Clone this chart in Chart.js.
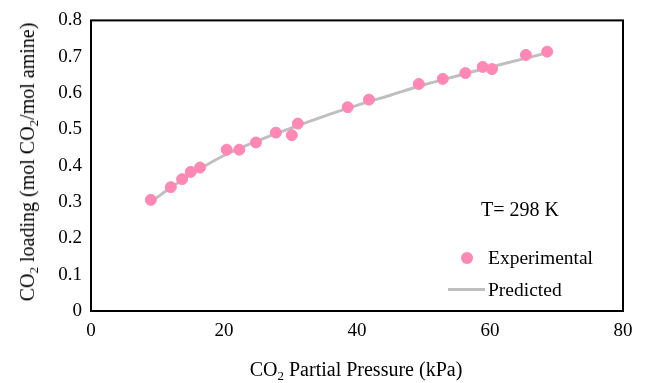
<!DOCTYPE html>
<html>
<head>
<meta charset="utf-8">
<script src="https://cdn.jsdelivr.net/npm/chart.js@4/dist/chart.umd.min.js"></script>
<style>
  html, body { margin:0; padding:0; background:#fff; }
  #wrap { position:relative; width:648px; height:383px; font-family:"Liberation Serif", "Times New Roman", serif; color:#000; }
  #c { position:absolute; left:0; top:0; }
  .lbl { position:absolute; white-space:nowrap; line-height:1; }
  .lbl sub { font-size:0.65em; vertical-align:-0.3em; line-height:0; }
  #ytitle { left:27px; top:162px; font-size:20px; transform:translate(-50%,-50%) rotate(-90deg); }
  #xtitle { left:356px; top:369px; font-size:20px; transform:translate(-50%,-50%); }
  #temp { left:481px; top:209px; font-size:20px; transform:translateY(-50%); }
  .leg { position:absolute; left:488px; font-size:19.5px; line-height:1; transform:translateY(-50%); }
  #dot { position:absolute; left:461px; top:252px; width:12px; height:12px; border-radius:50%; background:#ff88b4; }
  #dash { position:absolute; left:448px; top:288px; width:37px; height:3px; background:#bfbfbf; }
</style>
</head>
<body>
<div id="wrap">
  <canvas id="c" width="648" height="383"></canvas>
  <div class="lbl" id="ytitle">CO<sub>2</sub> loading (mol CO<sub>2</sub>/mol amine)</div>
  <div class="lbl" id="xtitle">CO<sub>2</sub> Partial Pressure (kPa)</div>
  <div class="lbl" id="temp">T= 298 K</div>
  <div id="dot"></div>
  <div class="leg" style="top:258px">Experimental</div>
  <div id="dash"></div>
  <div class="leg" style="top:290px">Predicted</div>
</div>
<script>
// experimental points
const expPressure = [9.0, 12.0, 13.7, 15.0, 16.4, 20.4, 22.3, 24.8, 27.8, 30.2, 31.1, 38.6, 41.8, 49.3, 52.9, 56.3, 58.9, 60.3, 65.4, 68.6];
const expLoading  = [0.306, 0.341, 0.363, 0.383, 0.395, 0.444, 0.444, 0.464, 0.491, 0.484, 0.516, 0.561, 0.582, 0.625, 0.639, 0.655, 0.672, 0.666, 0.705, 0.714];
// model curve
const predPressure = [9.0, 12.0, 15.0, 20.0, 25.0, 30.0, 35.0, 40.0, 45.0, 50.0, 55.0, 60.0, 65.0, 68.6];
const predLoading  = [0.300, 0.340, 0.376, 0.428, 0.468, 0.503, 0.536, 0.566, 0.594, 0.622, 0.647, 0.671, 0.694, 0.711];

const xTicks = [0, 20, 40, 60, 80];
const tickFont = { family: '"Liberation Serif", "Times New Roman", serif', size: 19 };

const frame = {
  id: 'frame',
  afterDraw(chart){
    const a = chart.chartArea, ctx = chart.ctx;
    ctx.save();
    ctx.strokeStyle = '#000';
    ctx.lineWidth = 2;
    ctx.strokeRect(a.left, a.top, a.right - a.left, a.bottom - a.top);
    ctx.restore();
  }
};

new Chart(document.getElementById('c'), {
  type: 'scatter',
  data: {
    datasets: [
      {
        label: 'Predicted',
        type: 'line',
        data: predPressure.map((x, i) => ({ x, y: predLoading[i] })),
        borderColor: '#bfbfbf',
        borderWidth: 3,
        pointRadius: 0,
        tension: 0.4,
        fill: false,
        order: 2
      },
      {
        label: 'Experimental',
        data: expPressure.map((x, i) => ({ x, y: expLoading[i] })),
        backgroundColor: '#ff88b4',
        borderColor: '#ff88b4',
        pointRadius: 5.5,
        order: 1
      }
    ]
  },
  options: {
    responsive: false,
    animation: false,
    layout: { padding: { top: 16, right: 25, left: 0, bottom: 0 } },
    plugins: { legend: { display: false }, tooltip: { enabled: false } },
    scales: {
      x: {
        type: 'linear', min: 0, max: 80,
        afterBuildTicks: s => { s.ticks = xTicks.map(v => ({ value: v })); },
        afterFit: s => { s.height = 72; },
        grid: { display: false, drawTicks: false },
        border: { display: false },
        ticks: { color: '#000', font: tickFont, padding: 9, maxRotation: 0 }
      },
      y: {
        min: 0, max: 0.8,
        afterFit: s => { s.width = 91; },
        grid: { display: false, drawTicks: false },
        border: { display: false },
        ticks: { color: '#000', font: tickFont, padding: 9, stepSize: 0.1, callback: v => Number(v.toFixed(1)).toString() }
      }
    }
  },
  plugins: [frame]
});
</script>
</body>
</html>
